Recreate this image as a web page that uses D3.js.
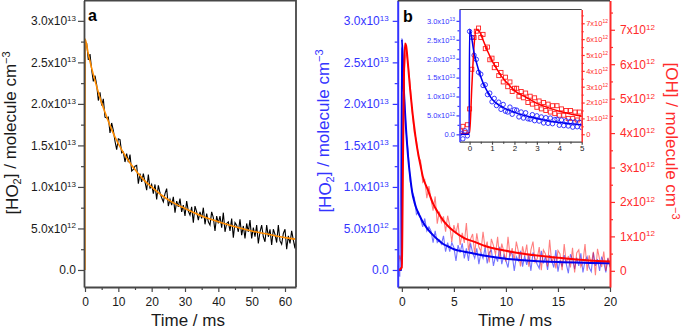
<!DOCTYPE html>
<html>
<head>
<meta charset="utf-8">
<script src="https://cdnjs.cloudflare.com/ajax/libs/d3/7.8.5/d3.min.js"></script>
<style>
  body { margin: 0; background: #fff; }
  svg { display: block; font-family: "Liberation Sans", Arial, sans-serif; }
</style>
</head>
<body>
<div id="chart"></div>
<script>
// all concentrations in units of 1e12 molecule cm^-3, time in ms

// panel a : HO2 trace, sampled every 0.5 ms from -0.5 ms
var a_t0 = -0.5, a_dt = 0.5;
var a_ho2 = [-1.4, 27.4, 27.3, 25.3, 26.0, 24.1, 22.7, 23.4, 22.3, 20.4, 21.4, 19.8, 20.6, 18.4, 18.3, 18.4, 16.5, 17.7, 16.8, 15.5,
  14.5, 15.8, 15.7, 14.1, 14.2, 13.0, 14.0, 13.0, 13.9, 11.9, 12.1, 12.5, 12.6, 10.4, 11.6, 10.6, 11.6, 10.6, 9.6, 11.5,
  9.8, 10.3, 9.2, 10.3, 8.5, 10.2, 9.3, 8.7, 8.2, 9.2, 9.8, 7.7, 8.5, 7.8, 8.8, 6.9, 8.3, 7.6, 8.6, 7.0,
  7.8, 6.5, 8.3, 7.1, 6.6, 7.6, 5.7, 7.7, 7.0, 6.0, 7.0, 6.2, 7.5, 5.5, 6.8, 5.8, 5.4, 7.0, 6.3, 4.7,
  6.5, 5.6, 6.5, 5.1, 6.9, 4.6, 5.6, 5.8, 4.7, 6.2, 3.9, 5.7, 5.4, 4.6, 6.1, 4.2, 5.3, 3.8, 5.6, 4.6,
  6.0, 3.8, 5.1, 4.0, 5.4, 3.2, 4.6, 5.4, 4.0, 3.4, 5.4, 4.0, 4.9, 3.0, 4.9, 4.3, 3.3, 5.4, 3.5, 3.1,
  4.4, 4.9, 2.5, 4.1, 3.2, 4.7, 3.6, 2.6, 4.9];
var a_fit_t = [-0.01, 0, 1, 2, 3, 4, 5, 6, 7, 8, 10, 12, 14, 16, 18, 20, 23, 26, 30, 35, 40, 45, 50, 55, 60, 63.5];
var a_fit_v = [0, 27.8, 26.0, 24.3, 22.8, 21.4, 20.1, 19.0, 17.9, 16.9, 15.2, 13.8, 12.6, 11.6, 10.7, 10.0, 9.0, 8.2, 7.4, 6.5, 5.8, 5.2, 4.7, 4.3, 3.9, 3.7];

// panel b : HO2 and OH traces, sampled every 0.2 ms from -0.4 ms
var b_t0 = -0.4, b_dt = 0.2;
var b_ho2 = [0.5, -0.8, 26.8, 21.9, 16.8, 14.3, 10.7, 9.4, 8.7, 6.7, 7.0, 6.2, 5.2, 6.2, 4.7, 5.2, 4.7, 3.3, 4.7, 3.3,
  3.6, 3.1, 4.1, 2.2, 3.3, 2.2, 3.3, 2.7, 1.1, 3.0, 2.1, 3.2, 1.4, 2.6, 1.1, 3.2, 2.1, 1.4, 2.6, 0.7,
  2.1, 1.4, 2.7, 0.8, 2.1, 2.4, 0.5, 1.7, 1.0, 2.8, 0.7, 1.8, 1.1, 0.3, 2.2, 1.9, -0.1, 1.6, 1.1, 2.3,
  0.4, 1.7, 0.6, 1.8, -0.1, 2.1, 1.3, 0.7, 0.2, 2.3, 0.8, 1.6, 0.0, 1.8, 1.1, 0.3, 2.4, -0.2, 1.2, 0.4,
  1.8, 0.7, -0.4, 1.9, 1.3, 0.1, 1.5, 0.5, 2.0, -0.3, 1.1, 1.6, 0.3, -0.2, 2.1, 0.5, 1.3, -0.1, 1.6, 0.9,
  -0.3, 1.4, 0.3];
var b_oh = [0.1, 0.45, 0.2, 5.7, 6.4, 6.0, 5.4, 4.6, 4.0, 3.8, 3.3, 3.2, 2.57, 2.64, 2.11, 2.46, 2.08, 1.75, 2.16, 1.37,
  1.72, 1.41, 1.58, 1.14, 1.6, 1.31, 0.84, 1.33, 1.08, 1.39, 0.75, 1.1, 0.81, 1.39, 0.59, 0.92, 1.07, 0.49, 1.09, 0.69,
  0.56, 1.13, 0.65, 0.85, 0.24, 0.93, 0.73, 0.47, 0.99, 0.34, 0.79, 0.55, 0.27, 0.99, 0.42, 0.66, 0.3, 0.85, 0.56, 0.13,
  0.71, 0.42, 0.76, 0.12, 0.61, 0.85, 0.25, 0.35, 0.69, 0.02, 0.61, 0.49, 0.13, 0.9, 0.23, 0.43, 0.07, 0.59, 0.49, 0.02,
  0.78, 0.22, 0.43, 0.1, 0.67, -0.05, 0.52, 0.61, 0.12, 0.25, 0.78, 0.0, 0.45, 0.2, 0.55, -0.13, 0.64, 0.33, 0.11, 0.56,
  0.0, 0.38, 0.13];
var b_ho2_fit_t = [-0.4, -0.02, 0.0, 0.2, 0.4, 0.6, 0.8, 1.0, 1.2, 1.4, 1.6, 1.8, 2.0, 2.5, 3.0, 3.5, 4.0, 4.5, 5, 6, 7, 8, 10, 12, 15, 18, 20];
var b_ho2_fit_v = [0, 0, 27.8, 21.5, 17.0, 13.6, 11.2, 9.3, 8.2, 7.4, 6.8, 6.3, 5.8, 4.9, 4.2, 3.6, 3.1, 2.8, 2.5, 2.2, 1.95, 1.7, 1.35, 1.15, 0.95, 0.85, 0.8];
var b_oh_fit_t = [-0.4, 0.0, 0.1, 0.2, 0.3, 0.4, 0.6, 0.8, 1.0, 1.2, 1.4, 1.6, 1.8, 2.0, 2.5, 3.0, 3.5, 4.0, 4.5, 5.0, 6, 7, 8, 10, 12, 15, 18, 20];
var b_oh_fit_v = [0, 0.1, 3.0, 5.6, 6.6, 6.55, 5.95, 5.25, 4.65, 4.15, 3.7, 3.35, 3.05, 2.75, 2.35, 1.95, 1.68, 1.45, 1.28, 1.15, 0.95, 0.84, 0.72, 0.58, 0.48, 0.38, 0.3, 0.27];

// inset : first 5 ms, points every 0.1 ms from -0.4 ms
var i_t0 = -0.4, i_dt = 0.1;
var i_ho2 = [0.3, -1.2, 0.9, -0.4, 27.2, 25.6, 20.9, 19.8, 16.4, 15.9, 12.9, 13.1, 10.5, 10.9, 8.6, 9.5, 7.6, 8.5, 6.6, 7.9,
  6.1, 5.9, 7.2, 5.3, 6.5, 6.4, 4.6, 5.9, 4.3, 5.7, 4.1, 4.0, 5.2, 3.6, 4.9, 3.5, 4.6, 3.0, 4.4, 2.9,
  4.3, 2.8, 3.9, 4.0, 2.4, 3.8, 2.3, 3.6, 2.2, 3.4, 1.9, 3.3, 2.0, 3.2, 1.8];
var i_oh = [0.2, 0.5, 0.1, 0.6, 1.6, 4.1, 6.1, 6.5, 6.7, 6.1, 6.3, 5.4, 5.5, 4.7, 4.8, 4.2, 4.4, 3.7, 3.9, 3.3,
  3.6, 3.0, 3.3, 2.7, 2.9, 2.9, 2.4, 2.7, 2.3, 2.6, 2.0, 2.4, 1.9, 2.3, 1.7, 2.1, 1.6, 2.0, 1.5, 1.9,
  1.4, 1.8, 1.3, 1.8, 1.2, 1.6, 1.2, 1.5, 1.0, 1.5, 1.0, 1.4, 0.9, 1.4, 1.0];

// ticks
var a_xticks = [0, 10, 20, 30, 40, 50, 60], a_xminor = [5, 15, 25, 35, 45, 55];
var ho2_ticks = [0, 5, 10, 15, 20, 25, 30], ho2_minor = [2.5, 7.5, 12.5, 17.5, 22.5, 27.5];
var b_xticks = [0, 5, 10, 15, 20], b_xminor = [2.5, 7.5, 12.5, 17.5];
var oh_ticks = [0, 1, 2, 3, 4, 5, 6, 7], oh_minor = [0.5, 1.5, 2.5, 3.5, 4.5, 5.5, 6.5, 7.5];
var i_xticks = [0, 1, 2, 3, 4, 5], i_xminor = [0.5, 1.5, 2.5, 3.5, 4.5];

var GRAY = "#474747", BLUE = "#3434ff", RED = "#ff2b2b";
var intFmt = d3.format("d");

function series(t0, dt, vals) {
  return vals.map(function(v, i) { return { t: t0 + i * dt, v: v }; });
}
function pairs(ts, vs) {
  return ts.map(function(t, i) { return { t: t, v: vs[i] }; });
}

// "3.0x10^13" style labels; v is in units of 1e12
function sciParts(v, digits) {
  if (v === 0) return [digits ? "0.0" : "0", null];
  var e = v >= 10 ? 13 : 12;
  var m = v / Math.pow(10, e - 12);
  return [m.toFixed(digits) + "x10", String(e)];
}
function sciLabels(g, digits, supSize) {
  g.selectAll(".tick text").each(function(d) {
    var p = sciParts(d, digits);
    var t = d3.select(this).text(null);
    t.append("tspan").text(p[0]);
    if (p[1]) t.append("tspan").attr("dy", "-0.55em").style("font-size", supSize).text(p[1]);
  });
}
function styleAxis(g, color, fontSize, width) {
  g.attr("font-family", null).attr("font-size", fontSize);
  g.select(".domain").attr("stroke", color).attr("stroke-width", width);
  g.selectAll(".tick line").attr("stroke", color).attr("stroke-width", 1.2);
  g.selectAll(".tick text").attr("fill", color === GRAY ? "#1a1a1a" : color);
}
function minorAxis(parent, axis, tr, color) {
  var g = parent.append("g").attr("transform", tr).call(axis.tickFormat("").tickSizeOuter(0));
  g.select(".domain").remove();
  g.selectAll(".tick line").attr("stroke", color).attr("stroke-width", 1.2);
  return g;
}
// axis title with sub/superscripts
function titleText(parent, x, y, rot, color, pre) {
  var t = parent.append("text")
    .attr("transform", "translate(" + x + "," + y + ") rotate(" + rot + ")")
    .attr("text-anchor", "middle")
    .attr("font-size", 17)
    .attr("fill", color);
  t.append("tspan").text("[" + pre);
  if (pre === "HO") {
    t.append("tspan").attr("dy", "0.3em").style("font-size", "11px").text("2");
    t.append("tspan").attr("dy", "-0.3em").text("] / molecule cm");
  } else {
    t.append("tspan").text("] / molecule cm");
  }
  t.append("tspan").attr("dy", "-0.55em").style("font-size", "11px").text("\u22123");
  return t;
}

var svg = d3.select("#chart").append("svg")
  .attr("width", 685)
  .attr("height", 331);

var defs = svg.append("defs");
function clip(id, x0, y0, x1, y1) {
  defs.append("clipPath").attr("id", id).append("rect")
    .attr("x", x0).attr("y", y0).attr("width", x1 - x0).attr("height", y1 - y0);
}

// ---------------- panel a ----------------
var xa = d3.scaleLinear().domain([-0.3, 63.3]).range([84, 296]);
var ya = d3.scaleLinear().domain([-2.05, 32.45]).range([287, 0.5]);
clip("clipA", 84, 0.5, 296, 287);

var lineA = d3.line().x(function(d) { return xa(d.t); }).y(function(d) { return ya(d.v); });

var pa = svg.append("g").attr("clip-path", "url(#clipA)");
pa.append("path")
  .datum(series(a_t0, a_dt, a_ho2))
  .attr("d", lineA)
  .attr("fill", "none")
  .attr("stroke", "#000")
  .attr("stroke-width", 1.1);
pa.append("path")
  .datum(pairs(a_fit_t, a_fit_v))
  .attr("d", lineA.curve(d3.curveMonotoneX))
  .attr("fill", "none")
  .attr("stroke", "#ff8c00")
  .attr("stroke-width", 1.6);

minorAxis(svg, d3.axisBottom(xa).tickValues(a_xminor).tickSize(3), "translate(0,287)", GRAY);
minorAxis(svg, d3.axisLeft(ya).tickValues(ho2_minor).tickSize(3), "translate(84,0)", GRAY);
var gxa = svg.append("g").attr("transform", "translate(0,287)")
  .call(d3.axisBottom(xa).tickValues(a_xticks).tickFormat(intFmt).tickSize(5).tickSizeOuter(0).tickPadding(5.5));
styleAxis(gxa, GRAY, 12, 1.8);
var gya = svg.append("g").attr("transform", "translate(84,0)")
  .call(d3.axisLeft(ya).tickValues(ho2_ticks).tickSize(6).tickSizeOuter(0).tickPadding(2));
styleAxis(gya, GRAY, 12, 1.8);
sciLabels(gya, 1, "8px");
svg.append("path")
  .attr("d", "M84,0.5H296V287")
  .attr("fill", "none").attr("stroke", GRAY).attr("stroke-width", 1.8);

svg.append("text").attr("x", 88).attr("y", 21).attr("font-size", 16).attr("font-weight", "bold").text("a");
titleText(svg, 18, 133, -90, "#1a1a1a", "HO");
svg.append("text").attr("x", 188).attr("y", 326).attr("text-anchor", "middle").attr("font-size", 17).attr("fill", "#1a1a1a").text("Time / ms");

// ---------------- panel b ----------------
var xb = d3.scaleLinear().domain([-0.4, 20]).range([397.7, 610]);
var yb = d3.scaleLinear().domain([-2.05, 32.45]).range([287, 0.5]);
var yr = d3.scaleLinear().domain([-0.47, 7.85]).range([287, 0.5]);
clip("clipB", 397.7, 0.5, 610, 287);

var lineBl = d3.line().x(function(d) { return xb(d.t); }).y(function(d) { return yb(d.v); });
var lineBr = d3.line().x(function(d) { return xb(d.t); }).y(function(d) { return yr(d.v); });

var pb = svg.append("g").attr("clip-path", "url(#clipB)");
pb.append("path")
  .datum(series(b_t0, b_dt, b_ho2))
  .attr("d", lineBl)
  .attr("fill", "none").attr("stroke", "#0000ff").attr("stroke-opacity", 0.55).attr("stroke-width", 1.1);
pb.append("path")
  .datum(series(b_t0, b_dt, b_oh))
  .attr("d", lineBr)
  .attr("fill", "none").attr("stroke", "#ff0000").attr("stroke-opacity", 0.5).attr("stroke-width", 1.1);
pb.append("path")
  .datum(pairs(b_ho2_fit_t, b_ho2_fit_v))
  .attr("d", lineBl.curve(d3.curveMonotoneX))
  .attr("fill", "none").attr("stroke", "#0000ee").attr("stroke-width", 2);
pb.append("path")
  .datum(pairs(b_oh_fit_t, b_oh_fit_v))
  .attr("d", lineBr.curve(d3.curveMonotoneX))
  .attr("fill", "none").attr("stroke", "#ff0000").attr("stroke-width", 2);

minorAxis(svg, d3.axisBottom(xb).tickValues(b_xminor).tickSize(3), "translate(0,287)", GRAY);
minorAxis(svg, d3.axisLeft(yb).tickValues(ho2_minor).tickSize(3), "translate(397.7,0)", BLUE);
minorAxis(svg, d3.axisRight(yr).tickValues(oh_minor).tickSize(3), "translate(610,0)", RED);
var gxb = svg.append("g").attr("transform", "translate(0,287)")
  .call(d3.axisBottom(xb).tickValues(b_xticks).tickFormat(intFmt).tickSize(5).tickSizeOuter(0).tickPadding(5.5));
styleAxis(gxb, GRAY, 12, 1.8);
var gyb = svg.append("g").attr("transform", "translate(397.7,0)")
  .call(d3.axisLeft(yb).tickValues(ho2_ticks).tickSize(5).tickSizeOuter(0).tickPadding(4));
styleAxis(gyb, BLUE, 12, 2);
sciLabels(gyb, 1, "8px");
var gyr = svg.append("g").attr("transform", "translate(610,0)")
  .call(d3.axisRight(yr).tickValues(oh_ticks).tickSize(5).tickSizeOuter(0).tickPadding(5));
styleAxis(gyr, RED, 12, 2);
sciLabels(gyr, 0, "8px");
svg.append("line").attr("x1", 397.7).attr("x2", 610).attr("y1", 0.5).attr("y2", 0.5)
  .attr("stroke", GRAY).attr("stroke-width", 1.8);

svg.append("text").attr("x", 403).attr("y", 22).attr("font-size", 16).attr("font-weight", "bold").text("b");
titleText(svg, 331, 131, -90, BLUE, "HO");
titleText(svg, 666, 141, 90, RED, "OH");
svg.append("text").attr("x", 515).attr("y", 326).attr("text-anchor", "middle").attr("font-size", 17).attr("fill", "#1a1a1a").text("Time / ms");

// ---------------- inset ----------------
var xi = d3.scaleLinear().domain([-0.45, 5]).range([459.5, 581.7]);
var yi = d3.scaleLinear().domain([-1.95, 33.0]).range([141.7, 9.5]);
var yir = d3.scaleLinear().domain([-0.47, 7.87]).range([141.7, 9.5]);
clip("clipI", 459.5, 9.5, 581.7, 141.7);

svg.append("rect").attr("x", 459.5).attr("y", 9.5).attr("width", 581.7 - 459.5).attr("height", 141.7 - 9.5)
  .attr("fill", "#fff");

var lineIl = d3.line().x(function(d) { return xi(d.t); }).y(function(d) { return yi(d.v); }).curve(d3.curveMonotoneX);
var lineIr = d3.line().x(function(d) { return xi(d.t); }).y(function(d) { return yir(d.v); }).curve(d3.curveMonotoneX);

var pi = svg.append("g").attr("clip-path", "url(#clipI)");
pi.selectAll("rect.oh")
  .data(series(i_t0, i_dt, i_oh))
  .enter().append("rect")
  .attr("class", "oh")
  .attr("x", function(d) { return xi(d.t) - 2; })
  .attr("y", function(d) { return yir(d.v) - 2; })
  .attr("width", 4).attr("height", 4)
  .attr("fill", "none").attr("stroke", "#ff2020").attr("stroke-width", 0.9);
pi.selectAll("circle.ho2")
  .data(series(i_t0, i_dt, i_ho2))
  .enter().append("circle")
  .attr("class", "ho2")
  .attr("cx", function(d) { return xi(d.t); })
  .attr("cy", function(d) { return yi(d.v); })
  .attr("r", 2.2)
  .attr("fill", "none").attr("stroke", "#2020ff").attr("stroke-width", 0.9);
pi.append("path")
  .datum(pairs(b_oh_fit_t, b_oh_fit_v))
  .attr("d", lineIr)
  .attr("fill", "none").attr("stroke", "#ff0000").attr("stroke-width", 1.5);
pi.append("path")
  .datum(pairs(b_ho2_fit_t, b_ho2_fit_v))
  .attr("d", lineIl)
  .attr("fill", "none").attr("stroke", "#0000ee").attr("stroke-width", 1.5);

minorAxis(svg, d3.axisBottom(xi).tickValues(i_xminor).tickSize(2), "translate(0,141.7)", GRAY);
minorAxis(svg, d3.axisLeft(yi).tickValues(ho2_minor).tickSize(2), "translate(459.5,0)", BLUE);
minorAxis(svg, d3.axisRight(yir).tickValues(oh_minor).tickSize(2), "translate(581.7,0)", RED);
var gxi = svg.append("g").attr("transform", "translate(0,141.7)")
  .call(d3.axisBottom(xi).tickValues(i_xticks).tickFormat(intFmt).tickSize(3).tickSizeOuter(0).tickPadding(1));
styleAxis(gxi, GRAY, 8, 1.2);
var gyi = svg.append("g").attr("transform", "translate(459.5,0)")
  .call(d3.axisLeft(yi).tickValues(ho2_ticks).tickSize(3).tickSizeOuter(0).tickPadding(1.5));
styleAxis(gyi, BLUE, 7.5, 1.5);
sciLabels(gyi, 1, "5px");
var gyir = svg.append("g").attr("transform", "translate(581.7,0)")
  .call(d3.axisRight(yir).tickValues(oh_ticks).tickSize(3).tickSizeOuter(0).tickPadding(1.5));
styleAxis(gyir, RED, 7.5, 1.5);
sciLabels(gyir, 0, "5px");
svg.append("line").attr("x1", 459.5).attr("x2", 581.7).attr("y1", 9.5).attr("y2", 9.5)
  .attr("stroke", GRAY).attr("stroke-width", 1.2);
</script>
</body>
</html>
